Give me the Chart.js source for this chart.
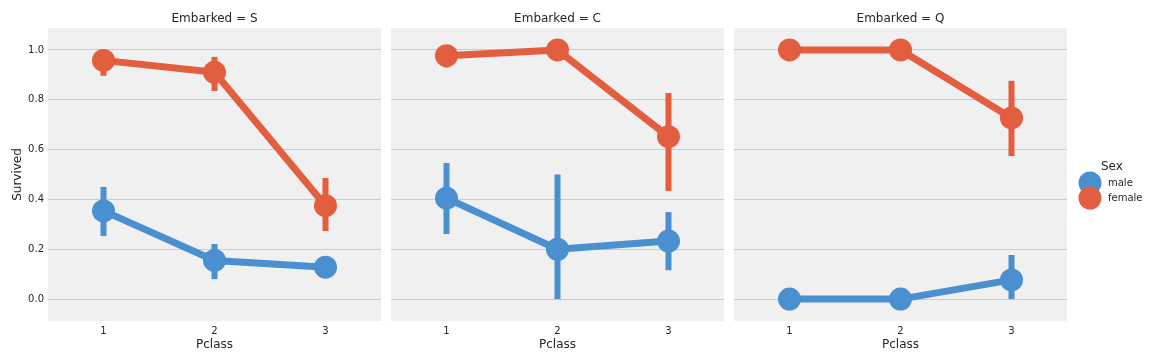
<!DOCTYPE html>
<html>
<head>
<meta charset="utf-8">
<script src="https://cdn.jsdelivr.net/npm/chart.js@4.4.1/dist/chart.umd.min.js"></script>
<style>
    body { margin: 0; background: #fff; }
    #wrap { position: relative; width: 1151px; height: 361px; }
    canvas { position: absolute; top: 0; }
</style>
</head>
<body>
<div id="wrap">
    <canvas id="chartS"></canvas>
    <canvas id="chartC"></canvas>
    <canvas id="chartQ"></canvas>
</div>
<script>
// facet / category names
const ports = ['S', 'C', 'Q'];
const pclassLabels = ['1', '2', '3'];
const sexes = ['male', 'female'];
const yTicks = [0.0, 0.2, 0.4, 0.6, 0.8, 1.0];

// mean survival per Pclass
const maleS = [0.354, 0.155, 0.128];
const femaleS = [0.958, 0.910, 0.375];
const maleC = [0.405, 0.200, 0.233];
const femaleC = [0.977, 1.000, 0.652];
const maleQ = [0.000, 0.000, 0.077];
const femaleQ = [1.000, 1.000, 0.727];

// confidence intervals [low, high]
const maleCiS = [[0.253, 0.450], [0.080, 0.221], [0.100, 0.160]];
const femaleCiS = [[0.896, 1.000], [0.835, 0.972], [0.273, 0.486]];
const maleCiC = [[0.261, 0.546], [0.000, 0.500], [0.116, 0.349]];
const femaleCiC = [[0.930, 1.000], [1.000, 1.000], [0.434, 0.827]];
const maleCiQ = [[0.000, 0.000], [0.000, 0.000], [0.000, 0.177]];
const femaleCiQ = [[1.000, 1.000], [1.000, 1.000], [0.574, 0.876]];

const COLORS = { male: '#4a8fd0', female: '#e35d3f' };
const FONT = 'DejaVu Sans';
const TEXT = '#262626';

// canvas placement of each facet
const panels = [
    { id: 'chartS', left: 0, width: 386, yWidth: 48, right: 5, male: maleS, female: femaleS, maleCi: maleCiS, femaleCi: femaleCiS },
    { id: 'chartC', left: 386, width: 343, yWidth: 5, right: 5, male: maleC, female: femaleC, maleCi: maleCiC, femaleCi: femaleCiC },
    { id: 'chartQ', left: 729, width: 422, yWidth: 5, right: 84, male: maleQ, female: femaleQ, maleCi: maleCiQ, femaleCi: femaleCiQ }
];

const bgPlugin = {
    id: 'bg',
    beforeDraw(chart) {
        const { ctx, chartArea: a } = chart;
        ctx.save();
        ctx.fillStyle = '#f0f0f0';
        ctx.fillRect(a.left, a.top, a.right - a.left, a.bottom - a.top);
        ctx.restore();
    }
};

const legendPlugin = {
    id: 'sexLegend',
    afterDraw(chart) {
        const ctx = chart.ctx;
        const x0 = chart.chartArea.right + 23;
        ctx.save();
        ctx.fillStyle = TEXT;
        ctx.font = '12px "' + FONT + '"';
        ctx.textBaseline = 'middle';
        ctx.fillText('Sex', x0 + 11, 167);
        sexes.forEach((s, i) => {
            const cy = 183 + i * 15;
            ctx.beginPath();
            ctx.arc(x0, cy, 11.5, 0, Math.PI * 2);
            ctx.fillStyle = COLORS[s];
            ctx.fill();
        });
        ctx.font = '10px "' + FONT + '"';
        ctx.fillStyle = TEXT;
        sexes.forEach((s, i) => {
            ctx.fillText(s, x0 + 18, 183 + i * 15);
        });
        ctx.restore();
    }
};

function errorBars(ci, color) {
    return ci.map((c, i) => ({
        type: 'line',
        data: [{ x: pclassLabels[i], y: c[0] }, { x: pclassLabels[i], y: c[1] }],
        borderColor: color,
        borderWidth: 6,
        borderCapStyle: 'butt',
        pointRadius: 0
    }));
}

function pointLine(label, values, color) {
    return {
        type: 'line',
        label: label,
        data: values,
        borderColor: color,
        backgroundColor: color,
        borderWidth: 7,
        borderJoinStyle: 'round',
        pointRadius: 11.5,
        pointBorderWidth: 0,
        pointBackgroundColor: color
    };
}

panels.forEach((p, k) => {
    const cv = document.getElementById(p.id);
    cv.width = p.width;
    cv.height = 361;
    cv.style.left = p.left + 'px';

    const datasets = [
        pointLine('female', p.female, COLORS.female),
        pointLine('male', p.male, COLORS.male)
    ].concat(errorBars(p.femaleCi, COLORS.female), errorBars(p.maleCi, COLORS.male));

    new Chart(cv, {
        type: 'line',
        data: { labels: pclassLabels, datasets: datasets },
        options: {
            responsive: false,
            animation: false,
            devicePixelRatio: 1,
            layout: { autoPadding: false, padding: { left: 0, right: p.right, top: 0, bottom: 0 } },
            plugins: { legend: { display: false }, tooltip: { enabled: false } },
            scales: {
                x: {
                    type: 'category',
                    labels: pclassLabels,
                    offset: true,
                    grid: { display: false },
                    border: { display: false },
                    ticks: { color: TEXT, font: { family: FONT, size: 10 }, padding: -4 },
                    title: { display: true, text: 'Pclass', color: TEXT, font: { family: FONT, size: 12 }, padding: { top: 0, bottom: 9 } },
                    afterFit: s => { s.height = 40; }
                },
                top: {
                    type: 'category',
                    position: 'top',
                    labels: pclassLabels,
                    offset: true,
                    grid: { display: false },
                    border: { display: false },
                    ticks: { display: false },
                    title: { display: true, text: 'Embarked = ' + ports[k], color: TEXT, font: { family: FONT, size: 12 }, padding: { top: 12, bottom: 0 } },
                    afterFit: s => { s.height = 28; }
                },
                y: {
                    type: 'linear',
                    min: -0.088,
                    max: 1.088,
                    afterBuildTicks: s => { s.ticks = yTicks.map(v => ({ value: v })); },
                    grid: { color: '#cbcbcb', lineWidth: 1, drawTicks: false },
                    border: { display: false },
                    ticks: { display: k === 0, color: TEXT, font: { family: FONT, size: 10 }, padding: 4, callback: v => v.toFixed(1) },
                    title: { display: k === 0, text: 'Survived', color: TEXT, font: { family: FONT, size: 12 }, padding: { top: 11, bottom: 0 } },
                    afterFit: s => { s.width = p.yWidth; }
                }
            }
        },
        plugins: k === 2 ? [bgPlugin, legendPlugin] : [bgPlugin]
    });
});
</script>
</body>
</html>
